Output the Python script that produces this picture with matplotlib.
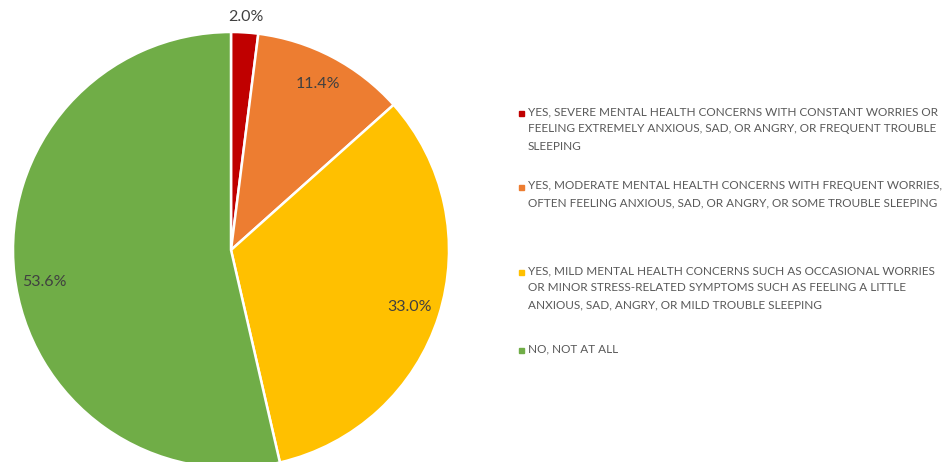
import matplotlib.pyplot as plt
import numpy as np

categories = [
    "YES, SEVERE MENTAL HEALTH CONCERNS WITH CONSTANT WORRIES OR\nFEELING EXTREMELY ANXIOUS, SAD, OR ANGRY, OR FREQUENT TROUBLE\nSLEEPING",
    "YES, MODERATE MENTAL HEALTH CONCERNS WITH FREQUENT WORRIES,\nOFTEN FEELING ANXIOUS, SAD, OR ANGRY, OR SOME TROUBLE SLEEPING",
    "YES, MILD MENTAL HEALTH CONCERNS SUCH AS OCCASIONAL WORRIES\nOR MINOR STRESS-RELATED SYMPTOMS SUCH AS FEELING A LITTLE\nANXIOUS, SAD, ANGRY, OR MILD TROUBLE SLEEPING",
    "NO, NOT AT ALL",
]
values = [2.0, 11.4, 33.0, 53.6]
colors = ["#C00000", "#ED7D31", "#FFC000", "#70AD47"]

W, H = 951, 462
fig = plt.figure(figsize=(W / 100, H / 100), dpi=100)
ax = fig.add_axes([0, 0, 1, 1])

cx, cy, r = 231, H - 250, 218
wedges, texts, autotexts = ax.pie(
    values, colors=colors, startangle=90, counterclock=False,
    center=(cx, cy), radius=r, autopct='%1.1f%%', pctdistance=0.86,
    wedgeprops=dict(edgecolor='white', linewidth=1.8),
    textprops=dict(fontsize=11.5, color='#404040', family='Lato'),
)
# small slice label sits outside the pie
mid = np.deg2rad(90 - values[0] / 2 * 3.6)
autotexts[0].set_position((cx + 1.07 * r * np.cos(mid), cy + 1.07 * r * np.sin(mid)))
# excel nudges the big slice label a bit lower
x3, y3 = autotexts[3].get_position()
autotexts[3].set_position((x3, y3 - 11))

ax.set_xlim(0, W)
ax.set_ylim(0, H)
ax.set_aspect('equal')
ax.axis('off')

# legend drawn by hand (centre of first line, y in pixels)
tops = [113, 187, 272, 350]
for lab, col, y in zip(categories, colors, tops):
    ax.add_patch(plt.Rectangle((518.5, H - y - 2.5), 5, 5, color=col))
    ax.text(528, H - y + 7, lab, fontsize=8.45, color='#595959', family='Lato',
            va='top', ha='left', linespacing=1.7)

fig.savefig('out.png', dpi=100)
